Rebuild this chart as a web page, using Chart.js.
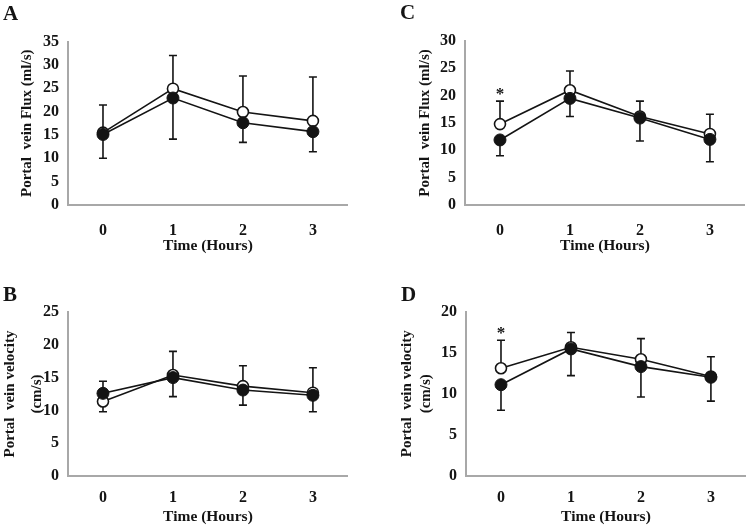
<!DOCTYPE html>
<html lang="en">
<head>
<meta charset="UTF-8">
<title>Portal vein flux and velocity</title>
<script src="https://cdn.jsdelivr.net/npm/chart.js@4.4.1/dist/chart.umd.min.js"></script>
<style>
  body { margin: 0; background: #fff; }
  #wrap { position: relative; width: 747px; height: 526px; overflow: hidden; }
  canvas { position: absolute; }
</style>
</head>
<body>
<div id="wrap">
  <canvas id="chartA" width="355" height="260" style="left:0px;top:0px"></canvas>
  <canvas id="chartC" width="355" height="260" style="left:397px;top:0px"></canvas>
  <canvas id="chartB" width="355" height="256" style="left:0px;top:270px"></canvas>
  <canvas id="chartD" width="355" height="256" style="left:398px;top:270px"></canvas>
</div>
<script>
// hours after start
const hours = ['0', '1', '2', '3'];

// A - portal vein flux (ml/s), first group
const fluxA_open = [15.5, 24.9, 19.9, 18.0];
const fluxA_openSD = [5.9, 7.1, 7.7, 9.4];
const fluxA_filled = [15.1, 22.9, 17.6, 15.7];
const fluxA_filledSD = [5.1, 8.8, 4.2, 4.3];

// B - portal vein velocity (cm/s), first group
const velB_open = [11.35, 15.4, 13.7, 12.7];
const velB_openSD = [3.1, 3.6, 3.1, 3.8];
const velB_filled = [12.6, 15.0, 13.1, 12.3];
const velB_filledSD = [2.8, 2.9, 2.3, 2.5];

// C - portal vein flux (ml/s), second group
const fluxC_open = [14.8, 21.0, 16.2, 13.0];
const fluxC_openSD = [4.2, 3.5, 2.8, 3.6];
const fluxC_filled = [11.9, 19.5, 15.9, 12.0];
const fluxC_filledSD = [2.9, 3.3, 4.2, 4.1];

// D - portal vein velocity (cm/s), second group
const velD_open = [13.1, 15.65, 14.2, 12.1];
const velD_openSD = [3.4, 1.8, 2.5, 2.4];
const velD_filled = [11.1, 15.45, 13.3, 12.0];
const velD_filledSD = [3.1, 3.25, 3.7, 2.9];

// significance marks (index of hour)
const starsC = [0];
const starsD = [0];

const FONT = "'Liberation Serif', 'Times New Roman', serif";
const INK = '#141414';

// error bars: open group goes up, filled group goes down
const errorBars = {
    id: 'errorBars',
    beforeDatasetsDraw(chart) {
        const ctx = chart.ctx;
        const yScale = chart.scales.y;
        ctx.save();
        ctx.strokeStyle = INK;
        ctx.lineWidth = 1.6;
        chart.data.datasets.forEach((ds, i) => {
            const meta = chart.getDatasetMeta(i);
            meta.data.forEach((pt, j) => {
                const v = ds.data[j];
                const up = ds.errUp ? ds.errUp[j] : 0;
                const down = ds.errDown ? ds.errDown[j] : 0;
                const yTop = yScale.getPixelForValue(v + up);
                const yBot = yScale.getPixelForValue(v - down);
                ctx.beginPath();
                ctx.moveTo(pt.x, yTop);
                ctx.lineTo(pt.x, yBot);
                if (up) { ctx.moveTo(pt.x - 4, yTop); ctx.lineTo(pt.x + 4, yTop); }
                if (down) { ctx.moveTo(pt.x - 4, yBot); ctx.lineTo(pt.x + 4, yBot); }
                ctx.stroke();
            });
        });
        ctx.restore();
    }
};

// stars above the upper error bar of the open group
const sigStars = {
    id: 'sigStars',
    afterDatasetsDraw(chart, args, opts) {
        if (!opts.at || !opts.at.length) return;
        const ds = chart.data.datasets[1];
        const meta = chart.getDatasetMeta(1);
        const ctx = chart.ctx;
        ctx.save();
        ctx.fillStyle = INK;
        ctx.font = 'bold 17px ' + FONT;
        ctx.textAlign = 'center';
        ctx.textBaseline = 'alphabetic';
        opts.at.forEach(j => {
            const yTop = chart.scales.y.getPixelForValue(ds.data[j] + ds.errUp[j]);
            ctx.fillText('*', meta.data[j].x, yTop - 2);
        });
        ctx.restore();
    }
};

// panel letter in the corner
const panelLetter = {
    id: 'panelLetter',
    afterDraw(chart, args, opts) {
        const ctx = chart.ctx;
        ctx.save();
        ctx.fillStyle = INK;
        ctx.font = 'bold 21px ' + FONT;
        ctx.textAlign = 'left';
        ctx.textBaseline = 'middle';
        ctx.fillText(opts.text, opts.x, opts.y);
        ctx.restore();
    }
};

function makePanel(id, cfg) {
    new Chart(document.getElementById(id), {
        type: 'line',
        data: {
            labels: hours,
            datasets: [
                {
                    data: cfg.filled,
                    errDown: cfg.filledSD,
                    borderColor: INK,
                    borderWidth: 1.6,
                    pointRadius: 6,
                    pointBackgroundColor: INK,
                    pointBorderColor: INK,
                    pointBorderWidth: 1,
                    tension: 0
                },
                {
                    data: cfg.open,
                    errUp: cfg.openSD,
                    borderColor: INK,
                    borderWidth: 1.6,
                    pointRadius: 5.5,
                    pointBackgroundColor: '#fff',
                    pointBorderColor: INK,
                    pointBorderWidth: 1.6,
                    tension: 0
                }
            ]
        },
        options: {
            responsive: false,
            animation: false,
            devicePixelRatio: 1,
            layout: { padding: { left: 0, right: 2, top: cfg.top, bottom: 0 } },
            plugins: {
                legend: { display: false },
                tooltip: { enabled: false },
                panelLetter: { text: cfg.letter, x: 3, y: cfg.letterY },
                sigStars: { at: cfg.stars || [] }
            },
            scales: {
                x: {
                    offset: true,
                    grid: { display: false, drawTicks: false },
                    border: { display: true, color: '#a8a8a8', width: 2 },
                    ticks: { color: INK, font: { family: FONT, size: 16, weight: 'bold' }, padding: cfg.xPad },
                    title: {
                        display: true,
                        text: 'Time (Hours)',
                        color: INK,
                        font: { family: FONT, size: 15.5, weight: 'bold' },
                        padding: { top: 0, bottom: cfg.xTitlePad }
                    },
                    afterFit: s => { s.height = cfg.xH; }
                },
                y: {
                    min: 0,
                    max: cfg.yMax,
                    grid: { display: false, drawTicks: false },
                    border: { display: true, color: '#a8a8a8', width: 2 },
                    ticks: { stepSize: 5, color: INK, font: { family: FONT, size: 16, weight: 'bold' }, padding: 9 },
                    title: {
                        display: true,
                        text: cfg.yTitle,
                        color: INK,
                        font: { family: FONT, size: 15, weight: 'bold', lineHeight: cfg.yLine },
                        padding: { top: cfg.yTitlePad, bottom: 0 }
                    },
                    afterFit: s => { s.width = 68; }
                }
            }
        },
        plugins: [errorBars, sigStars, panelLetter]
    });
}

makePanel('chartA', {
    letter: 'A', letterY: 15, top: 41.5, xH: 55, xPad: 16, xTitlePad: 5,
    open: fluxA_open, openSD: fluxA_openSD, filled: fluxA_filled, filledSD: fluxA_filledSD,
    yMax: 35, yTitle: 'Portal  vein Flux (ml/s)', yLine: 1.2, yTitlePad: 18
});
makePanel('chartC', {
    letter: 'C', letterY: 14, top: 41, xH: 55, xPad: 16, xTitlePad: 5,
    open: fluxC_open, openSD: fluxC_openSD, filled: fluxC_filled, filledSD: fluxC_filledSD,
    yMax: 30, yTitle: 'Portal  vein Flux (ml/s)', yLine: 1.2, yTitlePad: 19, stars: starsC
});
makePanel('chartB', {
    letter: 'B', letterY: 26, top: 42, xH: 50, xPad: 12, xTitlePad: 0,
    open: velB_open, openSD: velB_openSD, filled: velB_filled, filledSD: velB_filledSD,
    yMax: 25, yTitle: ['Portal  vein velocity', '(cm/s)'], yLine: 1.8, yTitlePad: -3.5
});
makePanel('chartD', {
    letter: 'D', letterY: 26, top: 41.5, xH: 50, xPad: 12, xTitlePad: 0,
    open: velD_open, openSD: velD_openSD, filled: velD_filled, filledSD: velD_filledSD,
    yMax: 20, yTitle: ['Portal  vein velocity', '(cm/s)'], yLine: 1.27, yTitlePad: 0, stars: starsD
});
</script>
</body>
</html>
